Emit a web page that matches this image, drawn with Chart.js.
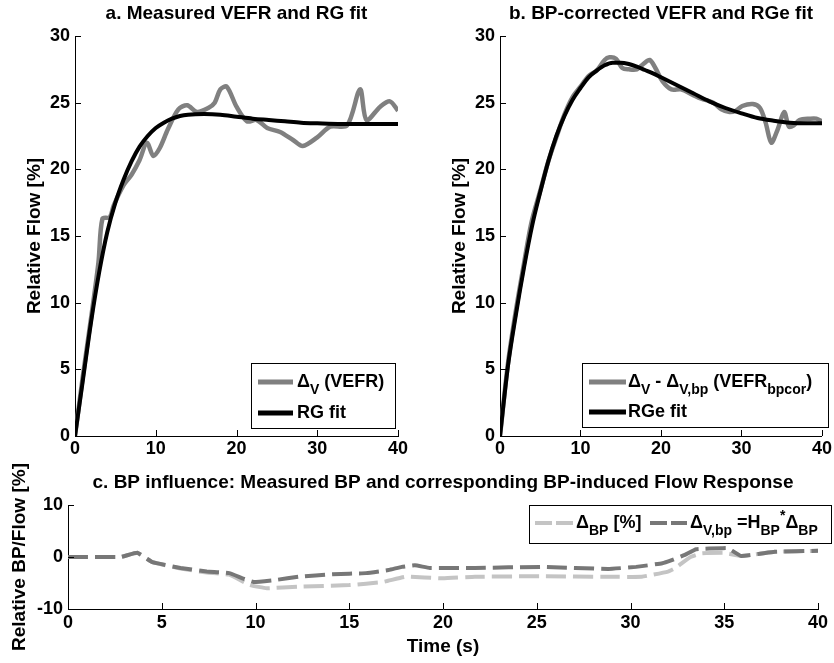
<!DOCTYPE html>
<html><head><meta charset="utf-8">
<script src="https://cdn.jsdelivr.net/npm/chart.js@4"></script>
<style>
html,body{margin:0;padding:0;background:#fff}
body{width:834px;height:663px;overflow:hidden;position:relative}
canvas{position:absolute}
</style></head><body>
<canvas id="ca" width="420" height="470" style="left:0px;top:0px;width:420px;height:470px"></canvas>
<canvas id="cb" width="414" height="470" style="left:420px;top:0px;width:414px;height:470px"></canvas>
<canvas id="cc" width="834" height="203" style="left:0px;top:460px;width:834px;height:203px"></canvas>
<script>
// ---------- data ----------
// Panel a: measured VEFR and RG fit
const tMeasA = [0, 1, 2, 2.9, 3.4, 4.3, 4.8, 6, 7, 8, 8.9, 9.7, 10.5, 11.5, 12.8, 13.9, 15.1, 16.5, 17.3, 18, 18.8, 20, 21.3, 22.5, 23.8, 25.4, 27, 28.2, 30, 31.6, 33.7, 35.3, 36.1, 37.8, 39, 40];
const measA  = [0, 4.6, 8.9, 13.0, 16.3, 16.4, 17.3, 18.8, 19.6, 20.7, 22.0, 21.0, 21.6, 23.0, 24.5, 24.8, 24.3, 24.6, 25.0, 26.0, 26.2, 24.7, 23.6, 23.7, 23.1, 22.8, 22.2, 21.75, 22.4, 23.2, 23.3, 26.0, 23.7, 24.7, 25.1, 24.4];
const tFitA  = [0, 1, 2, 3, 4, 5, 6, 7, 8, 9, 10, 11, 12, 13, 14, 16, 18, 20, 22, 24, 26, 28, 30, 33, 36, 40];
const fitA   = [0, 4.3, 8.6, 12.3, 15.3, 17.5, 19.2, 20.6, 21.7, 22.5, 23.1, 23.5, 23.8, 24.0, 24.1, 24.15, 24.1, 23.95, 23.8, 23.7, 23.6, 23.5, 23.45, 23.4, 23.4, 23.4];
// Panel b: BP-corrected VEFR and RGe fit
const tMeasB = [0, 1, 2, 3, 3.9, 5, 6, 7, 8, 9, 10, 11, 12, 13, 13.6, 14.4, 15.2, 16, 17, 17.8, 18.6, 19.3, 20.2, 21.3, 22.5, 23.9, 25, 26.5, 27.5, 28.5, 29.3, 30.1, 31.4, 32.3, 33.0, 33.7, 34.5, 35.3, 35.9, 36.5, 37.2, 38.5, 39.3, 40];
const measB  = [0, 5.5, 9.5, 13.0, 16.0, 18.4, 20.6, 22.4, 24.1, 25.4, 26.2, 27.0, 27.4, 28.2, 28.4, 28.3, 27.6, 27.5, 27.5, 27.9, 28.2, 27.6, 26.6, 26.0, 26.0, 25.6, 25.3, 25.0, 24.5, 24.3, 24.4, 24.75, 24.9, 24.6, 23.5, 22.0, 23.0, 24.3, 23.2, 23.3, 23.7, 23.8, 23.8, 23.6];
const tFitB  = [0, 1, 2, 3, 4, 5, 6, 7, 8, 9, 10, 11, 12, 13, 14, 15, 16, 17, 18, 19, 20, 22, 24, 26, 28, 30, 32, 34, 36, 38, 40];
const fitB   = [0, 5.3, 9.2, 12.7, 15.8, 18.3, 20.6, 22.5, 24.0, 25.2, 26.1, 26.9, 27.4, 27.8, 28.0, 28.0, 27.9, 27.7, 27.45, 27.2, 26.9, 26.3, 25.7, 25.1, 24.6, 24.2, 23.85, 23.65, 23.5, 23.45, 23.45];
// Panel c: BP influence
const tBP    = [0, 2.8, 3.7, 4.5, 6.0, 7.4, 8.6, 9.7, 10.6, 12.3, 15.0, 16.8, 18.0, 20.0, 21.7, 25.3, 28.8, 30.6, 32.0, 32.4, 33.2, 33.8, 35.0, 35.9, 37.7, 40];
const deltaBP= [0, 0, 0.8, -1.0, -2.2, -3.0, -3.4, -5.4, -6.0, -5.7, -5.4, -4.8, -3.8, -4.1, -3.8, -3.7, -3.8, -3.8, -2.8, -2.1, 0, 0.7, 0.8, 0.2, 1.0, 1.2];
const tVbp   = [0, 2.8, 3.7, 4.5, 6.0, 7.4, 8.6, 9.3, 9.9, 11.1, 12.3, 14.1, 15.9, 17.1, 17.8, 18.5, 19.3, 21.7, 25.3, 28.8, 30.3, 31.7, 32.2, 32.9, 33.5, 34.9, 35.2, 35.9, 37.7, 40];
const deltaVbp=[0, 0, 0.8, -1.0, -2.1, -2.8, -3.1, -4.1, -4.8, -4.4, -3.8, -3.3, -3.1, -2.5, -1.9, -1.6, -2.1, -2.1, -1.9, -2.3, -1.9, -1.2, -0.6, 0.4, 1.5, 1.7, 1.7, 0.2, 1.0, 1.2];
// tick values
const xTicksAB = [0, 10, 20, 30, 40];
const yTicksAB = [0, 5, 10, 15, 20, 25, 30];
const xTicksC  = [0, 5, 10, 15, 20, 25, 30, 35, 40];
const yTicksC  = [-10, 0, 10];

// ---------- helpers ----------
const FAMILY = '"Liberation Sans", Arial, Helvetica, sans-serif';
Chart.defaults.font.family = FAMILY;
Chart.defaults.font.weight = 'bold';
Chart.defaults.font.size = 18;
Chart.defaults.color = '#000';

const pts = (xs, ys) => xs.map((x, i) => ({x: x, y: ys[i]}));
const setTicks = arr => (scale) => { scale.ticks = arr.map(v => ({value: v})); };

function drawRich(ctx, x, y, segs) {
  ctx.textBaseline = 'middle';
  ctx.textAlign = 'left';
  ctx.fillStyle = '#000';
  segs.forEach(s => {
    const small = s.sub || s.sup;
    ctx.font = 'bold ' + (small ? 14 : 18) + 'px ' + FAMILY;
    const dy = s.sub ? 8 : (s.sup ? -7 : 0);
    ctx.fillText(s.t, x, y + dy);
    x += ctx.measureText(s.t).width;
  });
  return x;
}

// inward tick marks (MATLAB style)
const inwardTicks = {
  id: 'inwardTicks',
  afterDatasetsDraw(chart) {
    const {ctx, chartArea, scales} = chart;
    const x = scales.x, y = scales.y;
    ctx.save();
    ctx.strokeStyle = '#000';
    ctx.lineWidth = 1;
    ctx.beginPath();
    x.ticks.forEach(t => {
      const px = Math.round(x.getPixelForValue(t.value)) + 0.5;
      ctx.moveTo(px, chartArea.bottom);
      ctx.lineTo(px, chartArea.bottom - 6);
    });
    y.ticks.forEach(t => {
      const py = Math.round(y.getPixelForValue(t.value)) + 0.5;
      ctx.moveTo(chartArea.left, py);
      ctx.lineTo(chartArea.left + 6, py);
    });
    ctx.stroke();
    ctx.restore();
  }
};

// custom legend with sub/superscripts
function makeLegend(layout) {
  return {
    id: 'richLegend',
    afterDraw(chart) {
      const ctx = chart.ctx;
      const b = layout.box(chart.chartArea);
      ctx.save();
      ctx.fillStyle = '#fff';
      ctx.fillRect(b.x0, b.y0, b.x1 - b.x0, b.y1 - b.y0);
      ctx.strokeStyle = '#000';
      ctx.lineWidth = 1;
      ctx.strokeRect(Math.round(b.x0) + 0.5, Math.round(b.y0) + 0.5, Math.round(b.x1 - b.x0), Math.round(b.y1 - b.y0));
      layout.items.forEach(it => {
        ctx.save();
        ctx.strokeStyle = it.color;
        ctx.lineWidth = it.width;
        ctx.setLineDash(it.dash || []);
        ctx.beginPath();
        ctx.moveTo(b.x0 + it.x1, b.y0 + it.y);
        ctx.lineTo(b.x0 + it.x2, b.y0 + it.y);
        ctx.stroke();
        ctx.restore();
        drawRich(ctx, b.x0 + it.tx, b.y0 + it.y, it.segs);
      });
      ctx.restore();
    }
  };
}

function abScales(yTitlePad, yWidth) {
  return {
    x: {
      type: 'linear', min: 0, max: 40,
      afterBuildTicks: setTicks(xTicksAB),
      grid: {display: false, drawTicks: false},
      border: {display: true, color: '#000', width: 1},
      ticks: {padding: 2, font: {size: 18, weight: 'bold'}, color: '#000'},
      afterFit: s => { s.height = 34; }
    },
    y: {
      type: 'linear', min: 0, max: 30,
      afterBuildTicks: setTicks(yTicksAB),
      grid: {display: false, drawTicks: false},
      border: {display: true, color: '#000', width: 1},
      ticks: {padding: 5, font: {size: 18, weight: 'bold'}, color: '#000'},
      title: {display: true, text: 'Relative Flow [%]', font: {size: 19, weight: 'bold'}, color: '#000', padding: {top: yTitlePad, bottom: 0}},
      afterFit: s => { s.width = yWidth; }
    }
  };
}

function titleOpt(text, top, bottom) {
  return {display: true, text: text, fullSize: false, color: '#000',
          font: {size: 19, weight: 'bold'}, padding: {top: top, bottom: bottom}};
}

// ---------- panel a ----------
new Chart(document.getElementById('ca'), {
  type: 'line',
  data: {datasets: [
    {label: 'RG fit', data: pts(tFitA, fitA), borderColor: '#000', borderWidth: 4,
     pointRadius: 0, cubicInterpolationMode: 'monotone', borderJoinStyle: 'round'},
    {label: 'VEFR', data: pts(tMeasA, measA), borderColor: '#808080', borderWidth: 4.5,
     pointRadius: 0, tension: 0.3, borderJoinStyle: 'round'}
  ]},
  options: {
    responsive: false, animation: false, parsing: false,
    layout: {padding: {top: 0, left: 0, right: 22, bottom: 0}},
    plugins: {legend: {display: false}, tooltip: {enabled: false},
      title: titleOpt('a. Measured VEFR and RG fit', 2.1, 11.1)},
    scales: abScales(23.6, 75)
  },
  plugins: [inwardTicks, makeLegend({
    box: ca => ({x0: ca.right - 147, y0: ca.bottom - 73, x1: ca.right - 3, y1: ca.bottom - 8}),
    items: [
      {color: '#808080', width: 5, x1: 7, x2: 42, y: 19, tx: 46,
       segs: [{t: 'Δ'}, {t: 'V', sub: true}, {t: ' (VEFR)'}]},
      {color: '#000', width: 5, x1: 7, x2: 42, y: 50, tx: 46,
       segs: [{t: 'RG fit'}]}
    ]
  })]
});

// ---------- panel b ----------
new Chart(document.getElementById('cb'), {
  type: 'line',
  data: {datasets: [
    {label: 'RGe fit', data: pts(tFitB, fitB), borderColor: '#000', borderWidth: 4,
     pointRadius: 0, cubicInterpolationMode: 'monotone', borderJoinStyle: 'round'},
    {label: 'VEFR bpcor', data: pts(tMeasB, measB), borderColor: '#808080', borderWidth: 4.5,
     pointRadius: 0, tension: 0.3, borderJoinStyle: 'round'}
  ]},
  options: {
    responsive: false, animation: false, parsing: false,
    layout: {padding: {top: 0, left: 0, right: 11, bottom: 0}},
    plugins: {legend: {display: false}, tooltip: {enabled: false},
      title: titleOpt('b. BP-corrected VEFR and RGe fit', 2.1, 11.1)},
    scales: abScales(28.6, 80)
  },
  plugins: [inwardTicks, makeLegend({
    box: ca => ({x0: ca.right - 240, y0: ca.bottom - 73, x1: ca.right + 6, y1: ca.bottom - 9}),
    items: [
      {color: '#808080', width: 5, x1: 7, x2: 44, y: 19, tx: 46,
       segs: [{t: 'Δ'}, {t: 'V', sub: true}, {t: ' - Δ'}, {t: 'V,bp', sub: true}, {t: ' (VEFR'}, {t: 'bpcor', sub: true}, {t: ')'}]},
      {color: '#000', width: 5, x1: 7, x2: 44, y: 49, tx: 46,
       segs: [{t: 'RGe fit'}]}
    ]
  })]
});

// ---------- panel c ----------
new Chart(document.getElementById('cc'), {
  type: 'line',
  data: {datasets: [
    {label: 'dV,bp', data: pts(tVbp, deltaVbp), borderColor: '#777777', borderWidth: 4,
     borderDash: [20, 7], pointRadius: 0, tension: 0.1},
    {label: 'dBP', data: pts(tBP, deltaBP), borderColor: '#c4c4c4', borderWidth: 4,
     borderDash: [20, 7], pointRadius: 0, tension: 0.1}
  ]},
  options: {
    responsive: false, animation: false, parsing: false,
    layout: {padding: {top: 0, left: 0, right: 16, bottom: 0}},
    plugins: {legend: {display: false}, tooltip: {enabled: false},
      title: titleOpt('c. BP influence: Measured BP and corresponding BP-induced Flow Response', 11.6, 10.6)},
    scales: {
      x: {
        type: 'linear', min: 0, max: 40,
        afterBuildTicks: setTicks(xTicksC),
        grid: {display: false, drawTicks: false},
        border: {display: true, color: '#000', width: 1},
        ticks: {padding: 3, font: {size: 18, weight: 'bold'}, color: '#000'},
        title: {display: true, text: 'Time (s)', font: {size: 19, weight: 'bold'}, color: '#000', padding: {top: 0, bottom: 4.6}},
        afterFit: s => { s.height = 54; }
      },
      y: {
        type: 'linear', min: -10, max: 10,
        afterBuildTicks: setTicks(yTicksC),
        grid: {display: false, drawTicks: false},
        border: {display: true, color: '#000', width: 1},
        ticks: {padding: 5, font: {size: 18, weight: 'bold'}, color: '#000'},
        title: {display: true, text: 'Relative BP/Flow [%]', font: {size: 19, weight: 'bold'}, color: '#000', padding: {top: 8.6, bottom: 0}},
        afterFit: s => { s.width = 68; }
      }
    }
  },
  plugins: [inwardTicks, makeLegend({
    box: ca => ({x0: ca.right - 289, y0: ca.top, x1: ca.right + 13, y1: ca.top + 38}),
    items: [
      {color: '#c4c4c4', width: 4, dash: [17, 4], x1: 6, x2: 44, y: 18, tx: 47,
       segs: [{t: 'Δ'}, {t: 'BP', sub: true}, {t: ' [%]'}]},
      {color: '#777777', width: 4, dash: [17, 4], x1: 121, x2: 158, y: 18, tx: 161,
       segs: [{t: 'Δ'}, {t: 'V,bp', sub: true}, {t: ' =H'}, {t: 'BP', sub: true}, {t: '*', sup: true}, {t: 'Δ'}, {t: 'BP', sub: true}]}
    ]
  })]
});
</script>
</body></html>
